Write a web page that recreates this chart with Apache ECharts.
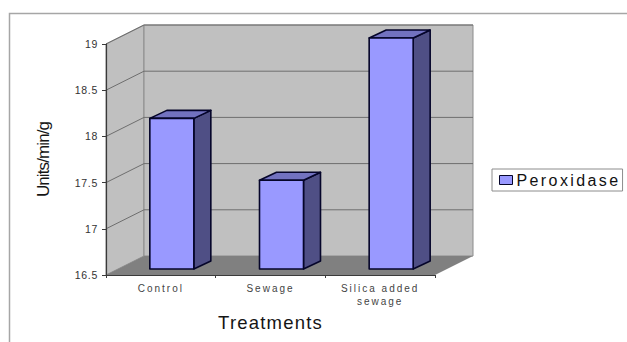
<!DOCTYPE html>
<html>
<head>
<meta charset="utf-8">
<style>
  html, body { margin: 0; padding: 0; background: #fff; }
  #chart { width: 627px; height: 342px; }
  /* Office-style tracking on the label text; the rotated axis name stays tight */
  #chart text { letter-spacing: 2px; }
  #chart text[style*="16px"] { letter-spacing: 2.4px; }
  #chart text[style*="10.5px"] { letter-spacing: 0.7px; }
  #chart text[style*="17px"] { letter-spacing: -0.9px; }
  #chart text[style*="18.5px"] { letter-spacing: 1.2px; }
</style>
<script src="https://cdn.jsdelivr.net/npm/echarts@6/dist/echarts.min.js"></script>
</head>
<body>
<div id="chart"></div>
<script>
const categories = ['Control', 'Sewage', 'Silica added\nsewage'];
const peroxidase = [18.13, 17.46, 19];
const gridValues = [17, 17.5, 18, 18.5, 19];
const axisMin = 16.5;
const axisMax = 19;

// Pseudo-3D depth of the plot box and of the columns, in pixels
const BOX_DX = 38, BOX_DY = -19;
const BAR_DX = 17, BAR_DY = -8;
const BAR_SHIFT_X = 11, BAR_SHIFT_Y = -6, BAR_WIDTH = 44;

const FONT = '"Liberation Sans", Arial, sans-serif';

function plotEdges(api) {
  const band = api.size([1, 0])[0];
  const left = api.coord([0, axisMin])[0] - band / 2;
  const right = api.coord([categories.length - 1, axisMin])[0] + band / 2;
  return { left, right, bottom: api.coord([0, axisMin])[1], top: api.coord([0, axisMax])[1] };
}

// Side wall, back wall and floor of the box
function renderBox(params, api) {
  const e = plotEdges(api);
  const wall = { fill: '#c0c0c0', stroke: '#8c8c8c', lineWidth: 1 };
  return {
    type: 'group',
    children: [
      { type: 'polygon', shape: { points: [
          [e.left, e.bottom], [e.left + BOX_DX, e.bottom + BOX_DY],
          [e.left + BOX_DX, e.top + BOX_DY], [e.left, e.top]] }, style: wall },
      { type: 'rect', shape: {
          x: e.left + BOX_DX, y: e.top + BOX_DY,
          width: e.right - e.left, height: e.bottom - e.top }, style: wall },
      { type: 'polygon', shape: { points: [
          [e.left, e.bottom], [e.right, e.bottom],
          [e.right + BOX_DX, e.bottom + BOX_DY], [e.left + BOX_DX, e.bottom + BOX_DY]] },
        style: { fill: '#808080' } }
    ]
  };
}

// A gridline runs up the side wall and then across the back wall
function renderGridline(params, api) {
  const e = plotEdges(api);
  const y = api.coord([0, api.value(1)])[1];
  return {
    type: 'polyline',
    shape: { points: [
      [e.left, y],
      [e.left + BOX_DX, y + BOX_DY],
      [e.right + BOX_DX, y + BOX_DY]] },
    style: { fill: 'none', stroke: '#6e6e6e', lineWidth: 1 }
  };
}

// Column with front, top and side faces
function renderColumn(params, api) {
  const top = api.coord([api.value(0), api.value(1)]);
  const base = api.coord([api.value(0), axisMin]);
  const x0 = top[0] + BAR_SHIFT_X - BAR_WIDTH / 2;
  const x1 = x0 + BAR_WIDTH;
  const y0 = top[1] + BAR_SHIFT_Y;
  const y1 = base[1] + BAR_SHIFT_Y;
  const edge = { stroke: '#05052a', lineWidth: 1.6, lineJoin: 'round' };
  return {
    type: 'group',
    children: [
      { type: 'polygon', shape: { points: [
          [x1, y0], [x1 + BAR_DX, y0 + BAR_DY], [x1 + BAR_DX, y1 + BAR_DY], [x1, y1]] },
        style: Object.assign({ fill: '#4f4f85' }, edge) },
      { type: 'polygon', shape: { points: [
          [x0, y0], [x0 + BAR_DX, y0 + BAR_DY], [x1 + BAR_DX, y0 + BAR_DY], [x1, y0]] },
        style: Object.assign({ fill: '#7272c0' }, edge) },
      { type: 'rect', shape: { x: x0, y: y0, width: BAR_WIDTH, height: y1 - y0 },
        style: Object.assign({ fill: '#9999ff' }, edge) }
    ]
  };
}

const chart = echarts.init(document.getElementById('chart'), null, { renderer: 'svg' });
chart.setOption({
  animation: false,
  backgroundColor: '#fff',
  grid: { left: 106, right: 192, top: 44, bottom: 67 },
  xAxis: {
    type: 'category',
    data: categories,
    z: 3,
    boundaryGap: true,
    name: 'Treatments',
    nameLocation: 'middle',
    nameGap: 35,
    nameTextStyle: { fontFamily: FONT, fontSize: 18.5, color: '#151515' },
    axisLine: { lineStyle: { color: '#3a3a3a', width: 1.2 } },
    axisTick: { show: true, alignWithLabel: false, length: 3, lineStyle: { color: '#3a3a3a' } },
    axisLabel: { fontFamily: FONT, fontSize: 10, color: '#444', margin: 7, lineHeight: 13, interval: 0 }
  },
  yAxis: {
    type: 'value',
    min: axisMin,
    max: axisMax,
    interval: 0.5,
    z: 3,
    name: 'Units/min/g',
    nameLocation: 'middle',
    nameRotate: 90,
    nameGap: 54,
    nameTextStyle: { fontFamily: FONT, fontSize: 17, color: '#151515' },
    splitLine: { show: false },
    axisLine: { show: true, lineStyle: { color: '#3a3a3a', width: 1.2 } },
    axisTick: { show: true, length: 4, lineStyle: { color: '#3a3a3a' } },
    axisLabel: { fontFamily: FONT, fontSize: 10.5, color: '#333', margin: 8 }
  },
  legend: {
    data: ['Peroxidase'],
    left: 492,
    top: 169,
    padding: [3, 26, 3, 7],
    itemWidth: 13,
    itemHeight: 9,
    itemGap: 0,
    icon: 'rect',
    borderColor: '#8c8c8c',
    borderWidth: 1,
    selectedMode: false,
    itemStyle: { borderColor: '#05052a', borderWidth: 1 },
    textStyle: { fontFamily: FONT, fontSize: 16, color: '#111', padding: [0, 0, 0, -1] }
  },
  graphic: [
    // Chart-area frame, running off the page to the right and bottom
    { type: 'polyline', silent: true, z: 0,
      shape: { points: [[9.5, 342], [9.5, 13.5], [627, 13.5]] },
      style: { fill: 'none', stroke: '#a6a6a6', lineWidth: 1.5 } }
  ],
  series: [
    { name: 'box', type: 'custom', z: 1, silent: true, clip: false,
      renderItem: renderBox, data: [[0, axisMin]], encode: { x: 0, y: 1 } },
    { name: 'gridlines', type: 'custom', z: 2, silent: true, clip: false,
      renderItem: renderGridline, data: gridValues.map(v => [0, v]), encode: { x: 0, y: 1 } },
    { name: 'Peroxidase', type: 'custom', z: 4, clip: false,
      itemStyle: { color: '#9999ff' },
      renderItem: renderColumn, data: peroxidase.map((v, i) => [i, v]), encode: { x: 0, y: 1 } }
  ]
});
</script>
</body>
</html>
